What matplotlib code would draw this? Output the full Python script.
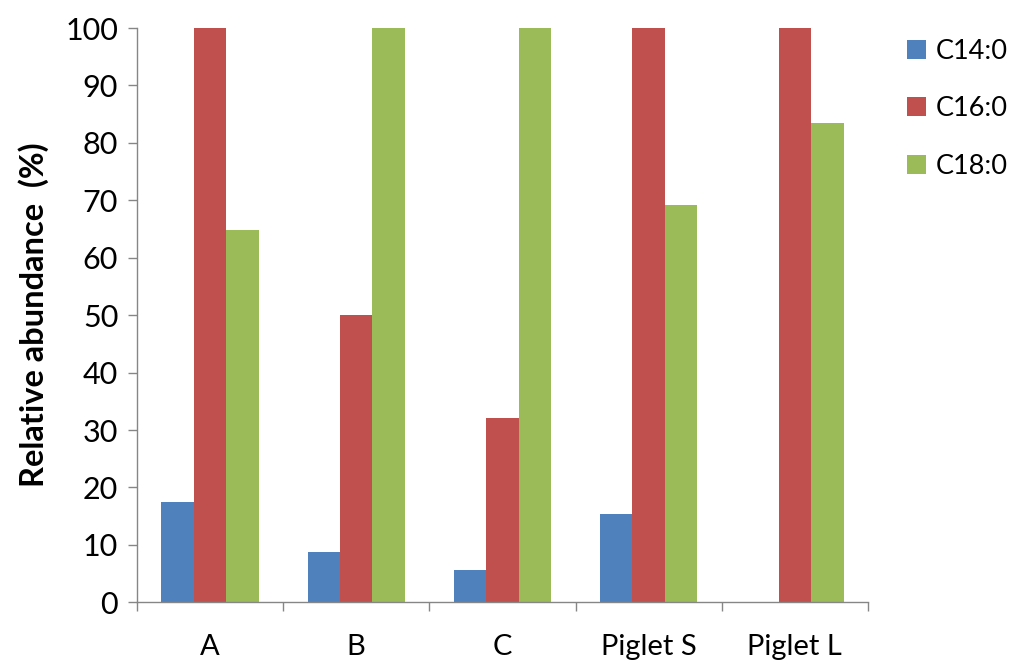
import matplotlib
matplotlib.use("Agg")
import matplotlib.pyplot as plt
import numpy as np

# data
groups = ["A", "B", "C", "Piglet S", "Piglet L"]
c14 = [17.5, 8.8, 5.6, 15.3, 0]
c16 = [100, 50.0, 32.1, 100, 100]
c18 = [64.8, 100, 100, 69.2, 83.5]
series_names = ["C14:0", "C16:0", "C18:0"]
colors = ["#4F81BD", "#C0504D", "#9BBB59"]

plt.rcParams["font.family"] = ["Lato", "DejaVu Sans"]

fig = plt.figure(figsize=(10.16, 6.62), dpi=100)
ax = fig.add_axes([0.1348, 0.0902, 0.7195, 0.8675])

x = np.arange(len(groups))
w = 0.222
for i, (vals, name, col) in enumerate(zip([c14, c16, c18], series_names, colors)):
    ax.bar(x + (i - 1) * w, vals, width=w, color=col, label=name, linewidth=0)

ax.set_xlim(-0.5, len(groups) - 0.5)
ax.set_ylim(0, 100)
ax.set_yticks(range(0, 101, 10))
ax.tick_params(axis="y", labelsize=22, length=6.5, width=1, color="#868686", pad=7)

# category labels centered, ticks at group boundaries
ax.set_xticks(np.arange(-0.5, len(groups), 1.0))
ax.set_xticklabels([])
ax.set_xticks(x, minor=True)
ax.set_xticklabels(groups, minor=True, fontsize=21)
ax.tick_params(axis="x", which="major", length=6.5, width=1, color="#868686")
ax.tick_params(axis="x", which="minor", length=0, pad=23)

for s in ["top", "right"]:
    ax.spines[s].set_visible(False)
for s in ["left", "bottom"]:
    ax.spines[s].set_color("#868686")
    ax.spines[s].set_linewidth(1)

ax.set_ylabel("Relative abundance  (%)", fontsize=23.5, fontweight="bold", labelpad=12)

fig.legend(loc="upper left", bbox_to_anchor=(0.882, 0.958), frameon=False,
           fontsize=19.5, handlelength=0.7, handleheight=0.7, handletextpad=0.35,
           labelspacing=1.2, borderaxespad=0)

fig.savefig("out.png", dpi=100)
